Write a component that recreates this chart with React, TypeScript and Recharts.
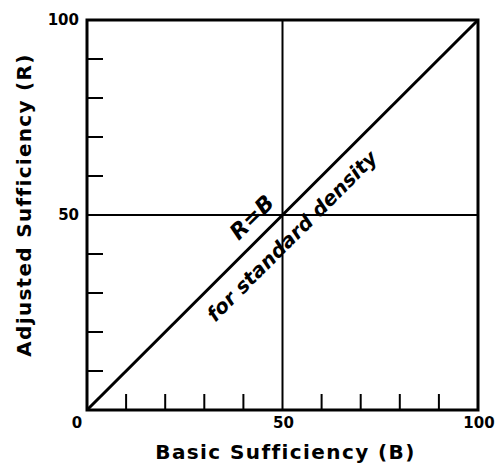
import React from 'react';
import { ComposedChart, Line, Scatter, XAxis, YAxis, ReferenceLine, ReferenceArea, Label } from 'recharts';

const FONT = '"DejaVu Sans", "Liberation Sans", sans-serif';

// diagonal R = B
const diagonal = [
  { b: 0, r: 0 },
  { b: 100, r: 100 },
];

const xTicks = [0, 10, 20, 30, 40, 50, 60, 70, 80, 90, 100];
const yTicks = [0, 10, 20, 30, 40, 50, 60, 70, 80, 90, 100];
const xLabeled = [0, 50, 100];
const yLabeled = [50, 100];
const midB = 50;
const midR = 50;

const annotations = [
  { b: 42.2, r: 49.4, text: 'R=B', size: 22 },
  { b: 52.4, r: 44.6, text: 'for standard density', size: 20 },
];

const xTitle = 'Basic Sufficiency (B)';
const yTitle = 'Adjusted Sufficiency (R)';

const XTick = (props: any) => {
  const { x, y, payload } = props;
  const v = payload.value;
  const showLine = v !== 0 && v !== 50 && v !== 100;
  const showLabel = xLabeled.includes(v);
  const dx = v === 0 ? -10 : 1;
  return (
    <g>
      {showLine && <line x1={x} y1={y} x2={x} y2={y - 16} stroke="#000" strokeWidth={2} />}
      {showLabel && (
        <text x={x + dx} y={y + 13} textAnchor="middle" dominantBaseline="central" style={{ fontFamily: FONT, fontWeight: 700, fontSize: 15 }} fill="#000">
          {v}
        </text>
      )}
    </g>
  );
};

const YTick = (props: any) => {
  const { x, y, payload } = props;
  const v = payload.value;
  const showLine = v !== 0 && v !== 50 && v !== 100;
  const showLabel = yLabeled.includes(v);
  return (
    <g>
      {showLine && <line x1={x} y1={y} x2={x + 16} y2={y} stroke="#000" strokeWidth={2} />}
      {showLabel && (
        <text x={x - 8} y={y} textAnchor="end" dominantBaseline="central" style={{ fontFamily: FONT, fontWeight: 700, fontSize: 15 }} fill="#000">
          {v}
        </text>
      )}
    </g>
  );
};

const AnnotShape = (props: any) => {
  const { cx, cy, payload } = props;
  return (
    <text
      x={cx}
      y={cy}
      transform={`rotate(-45, ${cx}, ${cy})`}
      textAnchor="middle"
      dominantBaseline="central"
      style={{ fontFamily: FONT, fontStyle: 'italic', fontWeight: 700, fontSize: payload.size }}
      fill="#000"
    >
      {payload.text}
    </text>
  );
};

export default function App() {
  return (
    <div style={{ position: 'absolute', left: 0, top: 0, background: '#fff' }}>
      <ComposedChart width={496} height={466} data={diagonal} margin={{ top: 20, right: 18, left: 0, bottom: 0 }}>
        <XAxis
          dataKey="b"
          type="number"
          domain={[0, 100]}
          ticks={xTicks}
          interval={0}
          tickSize={0}
          tickMargin={0}
          tickLine={false}
          axisLine={false}
          height={56}
          tick={<XTick />}
        >
          <Label
            content={(p: any) => {
              const vb = p.viewBox;
              return (
                <text x={vb.x + vb.width / 2 + 3} y={vb.y + 49} textAnchor="middle" style={{ fontFamily: FONT, fontWeight: 700, fontSize: 20, letterSpacing: 1.4 }} fill="#000">
                  {xTitle}
                </text>
              );
            }}
          />
        </XAxis>
        <YAxis
          type="number"
          domain={[0, 100]}
          ticks={yTicks}
          interval={0}
          tickSize={0}
          tickMargin={0}
          tickLine={false}
          axisLine={false}
          width={87}
          tick={<YTick />}
        >
          <Label
            content={(p: any) => {
              const vb = p.viewBox;
              const cx = vb.x + 24;
              const cy = vb.y + vb.height / 2 - 10;
              return (
                <text x={cx} y={cy} transform={`rotate(-90, ${cx}, ${cy})`} textAnchor="middle" dominantBaseline="central" style={{ fontFamily: FONT, fontWeight: 700, fontSize: 20, letterSpacing: 1.3 }} fill="#000">
                  {yTitle}
                </text>
              );
            }}
          />
        </YAxis>
        <ReferenceLine x={midB} stroke="#000" strokeWidth={2} />
        <ReferenceLine y={midR} stroke="#000" strokeWidth={2} />
        <Line dataKey="r" stroke="#000" strokeWidth={3} dot={false} isAnimationActive={false} />
        <ReferenceArea x1={0} x2={100} y1={0} y2={100} fill="none" fillOpacity={0} stroke="#000" strokeWidth={3} />
        <Scatter data={annotations} dataKey="r" shape={<AnnotShape />} isAnimationActive={false} />
      </ComposedChart>
    </div>
  );
}
